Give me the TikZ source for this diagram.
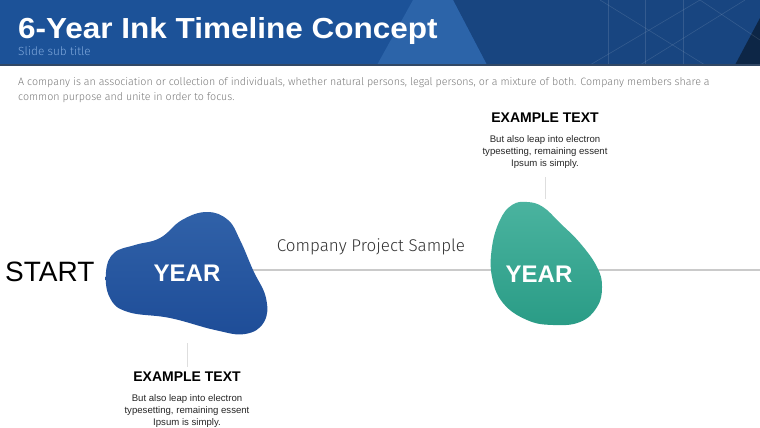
\documentclass[tikz,border=0pt]{standalone}
\usepackage{fontspec}
\setmainfont{Liberation Sans}
\newfontfamily\lightfont{Fira Sans Light}
\definecolor{hdrblue}{HTML}{1C5298}
\definecolor{hdrlight}{HTML}{2C64A9}
\definecolor{hdrdark}{HTML}{184580}
\definecolor{subblue}{HTML}{7FA8DC}
\definecolor{blobblue}{HTML}{1E4D98}
\definecolor{blobbluetop}{HTML}{3061A8}
\definecolor{blobgreen}{HTML}{2A9C86}
\definecolor{blobgreentop}{HTML}{4AB39F}
\definecolor{bodygray}{HTML}{7A7A7A}
\definecolor{linegray}{HTML}{CACACA}
\tikzset{
  yeartext/.style={text=white,font=\bfseries\fontsize{24}{24}\selectfont,inner sep=0pt},
  headtext/.style={font=\bfseries\fontsize{14}{14}\selectfont,inner sep=0pt},
  smalltext/.style={font=\fontsize{9.6}{12}\selectfont,align=center,inner sep=0pt,text=black!85},
  stem/.style={draw=black!13,line width=0.8pt},
  hdrline/.style={draw=white,opacity=0.12,line width=0.6pt}
}
\begin{document}
\begin{tikzpicture}[x=1pt,y=-1pt,line join=round]
  \useasboundingbox (0,0) rectangle (760,428);

  \coordinate (b1r) at (250,270);
  \coordinate (tlend) at (760,270);
  \coordinate (s1a) at (187,343);
  \coordinate (s1b) at (187,367);
  \coordinate (s2a) at (545,177);
  \coordinate (s2b) at (545,199);

  % header band
  \fill[hdrblue] (0,0) rectangle (760,65);
  \fill[hdrdark] (453,0) -- (760,0) -- (760,65) -- (487,65) -- cycle;
  \fill[hdrlight] (413,0) -- (453,0) -- (487,65) -- (377,65) -- cycle;
  \fill[black!45!hdrdark] (760,18) -- (760,65) -- (735,65) -- cycle;
  \draw[hdrline] (590,65) -- (700,0);
  \draw[hdrline] (600,0) -- (705,65);
  \draw[hdrline] (640,65) -- (745,0);
  \draw[hdrline] (700,0) -- (760,40);
  \draw[hdrline] (608,0) -- (608,65);
  \draw[hdrline] (645,0) -- (645,65);
  \draw[hdrline] (683,0) -- (683,65);
  \fill[black!30!hdrdark!70!gray] (0,64) rectangle (760,66);

  \node[anchor=base west,inner sep=0pt,text=white,font=\bfseries\fontsize{29}{29}\selectfont] (title) at (18,39) {\scalebox{1.086}[1]{6-Year Ink Timeline Concept}};
  \node[anchor=base west,inner sep=0pt,text=subblue,font=\lightfont\fontsize{11.8}{11.8}\selectfont] (subtitle) at (18,56) {Slide sub title};
  \node[anchor=base west,inner sep=0pt,text=bodygray,align=left,font=\lightfont\fontsize{10.67}{15}\selectfont] (intro) at (18,100)
    {A company is an association or collection of individuals, whether natural persons, legal persons, or a mixture of both. Company members share a\\common purpose and unite in order to focus.};

  % timeline
  \draw[linegray,line width=1.6pt] (b1r) -- (tlend);

  \shade[top color=blobbluetop,bottom color=blobblue] plot[smooth cycle,tension=0.7] coordinates {
    (106,272) (114,253) (135,245) (160,238) (182,220) (207,212) (228,220) (240,240)
    (253,270) (266,298) (264,322) (245,334) (215,330) (170,318) (128,312) (110,298)};
  \shade[top color=blobgreentop,bottom color=blobgreen] plot[smooth cycle,tension=0.7] coordinates {
    (527,202) (543,207) (560,223) (580,243) (597,267) (602,287) (597,307) (580,322)
    (553,325) (527,320) (503,303) (492,277) (492,247) (500,220) (512,205)};

  \node[yeartext] (year1) at (187,273) {YEAR};
  \node[yeartext] (year2) at (539,274) {YEAR};

  \node[anchor=base west,inner sep=0pt,font=\fontsize{28}{28}\selectfont] (start) at (5,281) {START};
  \node[anchor=base,inner sep=0pt,text=black!80,font=\lightfont\fontsize{17}{17}\selectfont] (project) at (371,251) {Company Project Sample};

  % callouts
  \draw[stem] (s2a) -- (s2b);
  \node[headtext,anchor=base] (head2) at (545,122) {EXAMPLE TEXT};
  \node[smalltext,anchor=north] (body2) at (545,135) {But also leap into electron\\typesetting, remaining essent\\Ipsum is simply.};

  \draw[stem] (s1a) -- (s1b);
  \node[headtext,anchor=base] (head1) at (187,381) {EXAMPLE TEXT};
  \node[smalltext,anchor=north] (body1) at (187,394) {But also leap into electron\\typesetting, remaining essent\\Ipsum is simply.};
\end{tikzpicture}
\end{document}
